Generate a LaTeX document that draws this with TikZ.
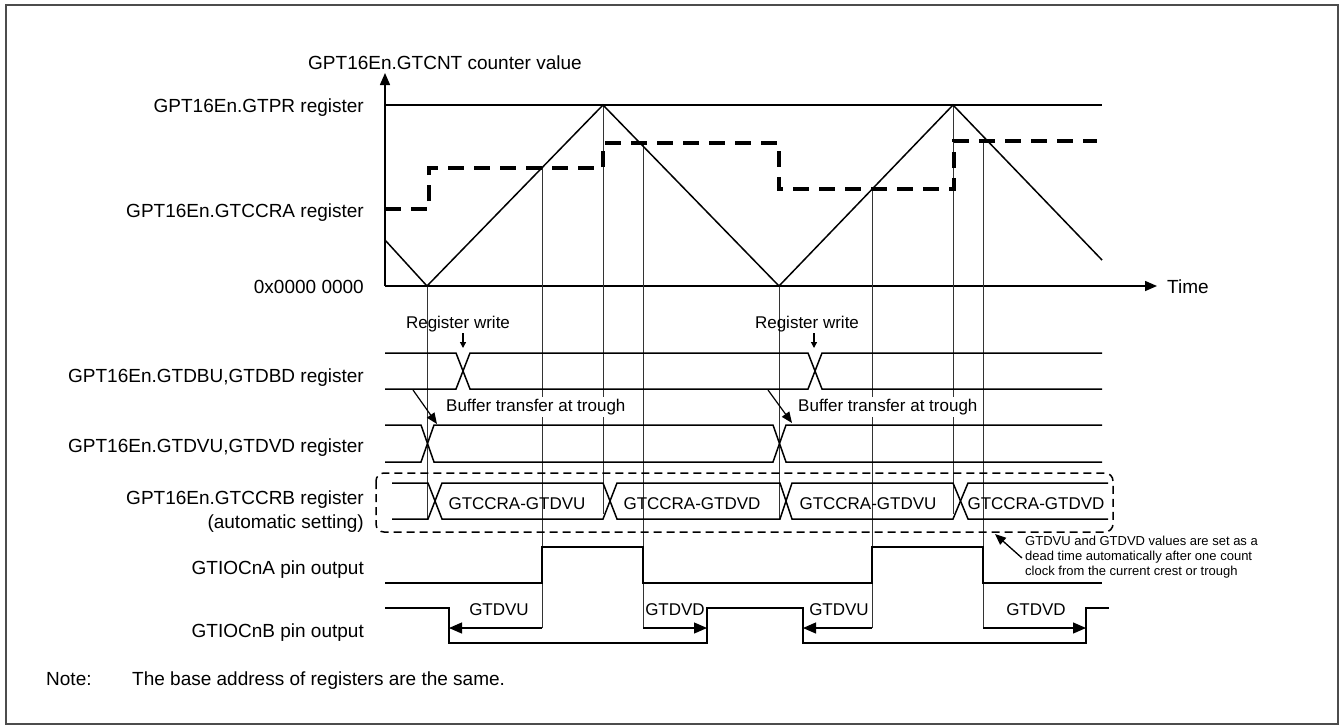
\documentclass[tikz,border=0pt]{standalone}
\usepackage{fontspec}
\setmainfont{Liberation Sans}
\usetikzlibrary{arrows.meta}
\begin{document}
\begin{tikzpicture}[x=1pt,y=-1pt,
  lbl/.style={font=\fontsize{19}{22}\selectfont, anchor=base east, inner sep=0pt},
  ann/.style={font=\fontsize{17}{20}\selectfont, anchor=base, inner sep=0pt},
  note/.style={font=\fontsize{13}{15}\selectfont, align=left, anchor=north west, inner sep=0pt},
  guide/.style={line width=0.9pt, draw=black!80},
  wave/.style={line width=1.5pt},
  bus/.style={line width=1.5pt},
  sig/.style={line width=2.4pt},
  ccra/.style={line width=4pt, dash pattern=on 16pt off 10pt},
  tip/.style={-{Triangle[length=12pt,width=10pt]}},
  smalltip/.style={-{Triangle[length=6pt,width=6pt]}},
  dt/.style={line width=1.2pt, -{Triangle[length=13pt,width=11pt]}},
  frame/.style={line width=1.5pt, draw=black!70}
]
\path[use as bounding box] (0,0) rectangle (1340,726);
\draw[frame] (6,5) rectangle (1338,724);

% axes
\coordinate (O) at (385,286);
\coordinate (ytip) at (385,73);
\coordinate (xtip) at (1157,286);
\draw[wave,tip] (O) -- (ytip);
\draw[wave,tip] (O) -- (xtip);
\node[font=\fontsize{19}{22}\selectfont, anchor=base west, inner sep=0pt] (ylab) at (308,69) {GPT16En.GTCNT counter value};
\node[font=\fontsize{19}{22}\selectfont, anchor=base west, inner sep=0pt] (xlab) at (1167,293) {Time};

% left labels
\node[lbl] (lpr) at (364,112) {GPT16En.GTPR register};
\node[lbl] (lccra) at (364,217) {GPT16En.GTCCRA register};
\node[lbl] (lzero) at (364,293) {0x0000 0000};
\node[lbl] (ldb) at (364,382) {GPT16En.GTDBU,GTDBD register};
\node[lbl] (ldv) at (364,452) {GPT16En.GTDVU,GTDVD register};
\node[lbl] (lccrb) at (364,504) {GPT16En.GTCCRB register};
\node[lbl] (lauto) at (364,528) {(automatic setting)};
\node[lbl] (la) at (364,574) {GTIOCnA pin output};
\node[lbl] (lb) at (364,637) {GTIOCnB pin output};
\node[font=\fontsize{19}{22}\selectfont, anchor=base west, inner sep=0pt] (notek) at (46,685) {Note:};
\node[font=\fontsize{19}{22}\selectfont, anchor=base west, inner sep=0pt] (notet) at (132,685) {The base address of registers are the same.};

% guide lines
\draw[guide] (427,286) -- (427,519);
\draw[guide] (542,168) -- (542,628);
\draw[guide] (603,105) -- (603,514);
\draw[guide] (643,143) -- (643,628);
\draw[guide] (779,286) -- (779,519);
\draw[guide] (872,189) -- (872,628);
\draw[guide] (953,105) -- (953,514);
\draw[guide] (983,141) -- (983,628);

% GTPR level and counter
\draw[wave] (385,105) -- (1102,105);
\draw[wave] (385,240) -- (427,286) -- (603,105) -- (779,286) -- (953,105) -- (1102,260);
\draw[ccra] (385,209) -- (429,209) -- (429,168) -- (603,168) -- (603,143) -- (779,143) -- (779,189) -- (954,189) -- (954,141) -- (1097,141);

% GTDBU,GTDBD row
\draw[bus] (385,353) -- (456,353) -- (470,389) -- (808,389) -- (822,353) -- (1102,353);
\draw[bus] (385,389) -- (456,389) -- (470,353) -- (808,353) -- (822,389) -- (1102,389);
\node[ann] (rw1) at (458,328) {Register write};
\node[ann] (rw2) at (807,328) {Register write};
\coordinate (rw1a) at (463,333);
\coordinate (rw1b) at (463,348);
\coordinate (rw2a) at (814,333);
\coordinate (rw2b) at (814,348);
\draw[line width=1.3pt, smalltip] (rw1a) -- (rw1b);
\draw[line width=1.3pt, smalltip] (rw2a) -- (rw2b);

% GTDVU,GTDVD row
\draw[bus] (385,425) -- (421,425) -- (434,462) -- (773,462) -- (786,425) -- (1102,425);
\draw[bus] (385,462) -- (421,462) -- (434,425) -- (773,425) -- (786,462) -- (1102,462);
\node[ann, anchor=base west, fill=white, inner ysep=2pt] (bt1) at (446,411) {Buffer transfer at trough};
\node[ann, anchor=base west, fill=white, inner ysep=2pt] (bt2) at (798,411) {Buffer transfer at trough};
\coordinate (bt1a) at (413,390);
\coordinate (bt1b) at (437,424);
\coordinate (bt2a) at (768,390);
\coordinate (bt2b) at (792,423);
\draw[line width=1.2pt, -{Triangle[length=11pt,width=9pt]}] (bt1a) -- (bt1b);
\draw[line width=1.2pt, -{Triangle[length=11pt,width=9pt]}] (bt2a) -- (bt2b);

% GTCCRB row
\draw[bus] (392,483) -- (428,483) -- (442,519) -- (603,519) -- (617,483) -- (780,483) -- (792,519) -- (953,519) -- (968,483) -- (1108,483);
\draw[bus] (392,519) -- (428,519) -- (442,483) -- (603,483) -- (617,519) -- (780,519) -- (792,483) -- (953,483) -- (968,519) -- (1108,519);
\node[ann] (c1) at (517,509) {GTCCRA-GTDVU};
\node[ann] (c2) at (692,509) {GTCCRA-GTDVD};
\node[ann] (c3) at (868,509) {GTCCRA-GTDVU};
\node[ann] (c4) at (1036,509) {GTCCRA-GTDVD};
\draw[line width=1.5pt, dash pattern=on 8pt off 5pt, rounded corners=8pt] (376,473) rectangle (1113,532);

% annotation
\node[note] (an) at (1025,536) {GTDVU and GTDVD values are set as a\\dead time automatically after one count\\clock from the current crest or trough};
\coordinate (ana) at (1022,558);
\coordinate (anb) at (995,534);
\draw[line width=1.3pt, -{Triangle[length=11pt,width=9pt]}] (ana) -- (anb);

% GTIOCnA
\draw[sig] (385,583) -- (542,583) -- (542,547) -- (643,547) -- (643,583) -- (872,583) -- (872,547) -- (983,547) -- (983,583) -- (1102,583);
% GTIOCnB
\draw[sig] (385,608) -- (449,608) -- (449,643) -- (707,643) -- (707,608) -- (803,608) -- (803,643) -- (1086,643) -- (1086,608) -- (1109,608);

% dead time arrows
\coordinate (d1a) at (542,628); \coordinate (d1b) at (449,628);
\coordinate (d2a) at (643,628); \coordinate (d2b) at (707,628);
\coordinate (d3a) at (872,628); \coordinate (d3b) at (803,628);
\coordinate (d4a) at (983,628); \coordinate (d4b) at (1086,628);
\draw[dt] (d1a) -- (d1b);
\draw[dt] (d2a) -- (d2b);
\draw[dt] (d3a) -- (d3b);
\draw[dt] (d4a) -- (d4b);
\node[ann] (g1) at (499,615) {GTDVU};
\node[ann] (g2) at (675,615) {GTDVD};
\node[ann] (g3) at (839,615) {GTDVU};
\node[ann] (g4) at (1036,615) {GTDVD};
\end{tikzpicture}
\end{document}
